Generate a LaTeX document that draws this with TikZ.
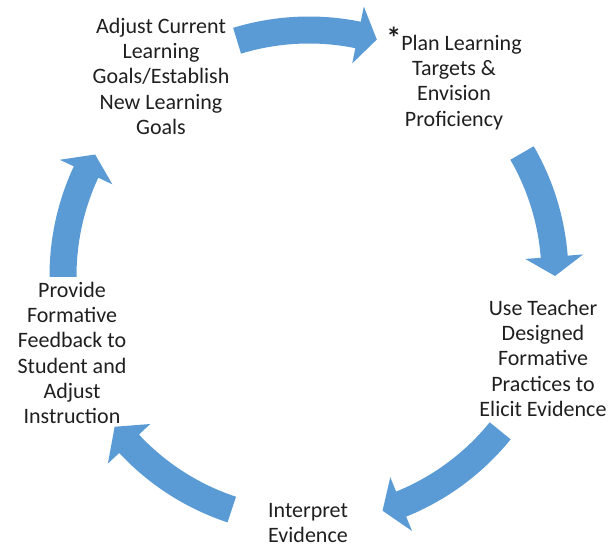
\documentclass[tikz,border=0pt]{standalone}
\usepackage{fontspec}
\setmainfont{Carlito}
\definecolor{cycleblue}{HTML}{5B9BD5}
\tikzset{
  steptext/.style={font=\fontsize{22}{25.3}\selectfont, align=center,
    inner sep=0pt, anchor=north, text=black!88},
  cyclearrow/.style={fill=cycleblue}
}
% first-line strut so that the north anchor sits 16pt above the first baseline
\newcommand\firstline{\rule{0pt}{16pt}}
% curved block arrow on the cycle: tail angle, head base angle, tip angle
\newcommand\cyclearc[3]{%
  \fill[cyclearrow] (#1:259.5) arc[start angle=#1, end angle=#2, radius=259.5]
    -- (#2:275) -- (#3:246) -- (#2:217) -- (#2:232.5)
    arc[start angle=#2, end angle=#1, radius=232.5] -- cycle;}
\begin{document}
\begin{tikzpicture}[x=1pt,y=1pt]
\useasboundingbox (0,0) rectangle (616,-546);

% arrows around the cycle
\begin{scope}[shift={(309,-276)}]
  \cyclearc{107}{78.5}{74}
  \cyclearc{30}{4.5}{0}
  \cyclearc{-39}{-68}{-72.6}
  \cyclearc{-108.3}{-137}{-142.2}
  \cyclearc{180.2}{155}{150.4}
\end{scope}

% stages
\node[steptext] (adjust) at (161,-17)
  {\firstline Adjust Current\\Learning\\Goals/Establish\\New Learning\\Goals};
\node[steptext] (plan) at (454,-34)
  {\firstline\smash{\raisebox{2pt}{\fontsize{30}{30}\selectfont\bfseries *}}Plan Learning\\Targets \&\\Envision\\Proficiency};
\node[steptext] (use) at (543,-299)
  {\firstline Use Teacher\\Designed\\Formative\\Practices to\\Elicit Evidence};
\node[steptext] (interpret) at (308,-501)
  {\firstline Interpret\\Evidence};
\node[steptext] (provide) at (72,-281)
  {\firstline Provide\\Formative\\Feedback to\\Student and\\Adjust\\Instruction};
\end{tikzpicture}
\end{document}
